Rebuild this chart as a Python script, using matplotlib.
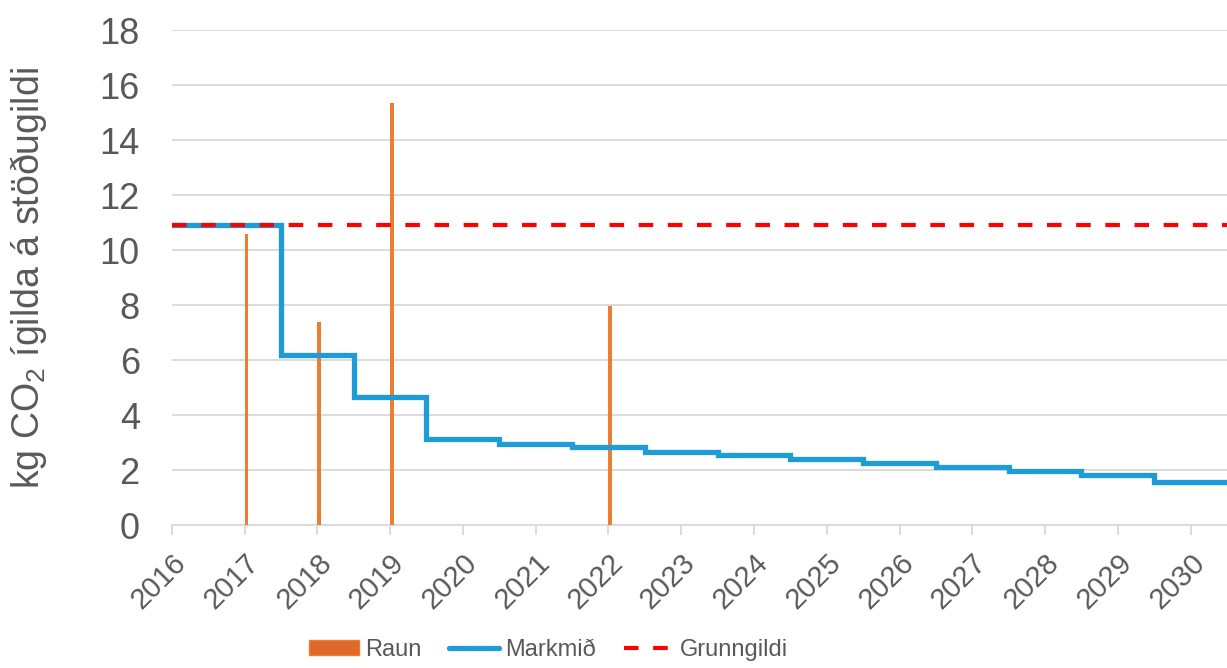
import numpy as np
import matplotlib
matplotlib.use("Agg")
import matplotlib.pyplot as plt
from matplotlib.patches import Patch
from matplotlib.lines import Line2D

plt.rcParams['font.family'] = ['Liberation Sans', 'DejaVu Sans']
plt.rcParams['mathtext.fontset'] = 'custom'
plt.rcParams['mathtext.rm'] = 'Liberation Sans'
plt.rcParams['mathtext.it'] = 'Liberation Sans'

# data
years = np.arange(2016, 2031)
target = [10.9, 10.9, 6.2, 4.66, 3.13, 2.95, 2.82, 2.67, 2.54, 2.39, 2.26, 2.12, 1.97, 1.83, 1.56]
actual_years = [2017, 2018, 2019, 2022]
actual = [10.6, 7.4, 15.35, 7.95]
baseline = 10.9

grey = '#595959'
orange = '#ED7D31'
blue = '#1F9BD7'

fig = plt.figure(figsize=(12.27, 6.68), dpi=100)
ax = fig.add_axes([0.140, 0.214, 0.86, 0.741])

ax.bar(actual_years, actual, width=0.05, align='edge', color=orange, zorder=3)
edges = np.r_[years - 0.5, years[-1] + 0.5]
ax.stairs(target, edges, color=blue, linewidth=3.8, zorder=4, baseline=None)
ax.axhline(baseline, color='#FF0000', linewidth=3, linestyle=(0, (3.5, 3.5)), zorder=5)

ax.set_xlim(2016, 2030.5)
ax.set_ylim(0, 18)
ax.set_yticks(np.arange(0, 19, 2))
ax.set_xticks(years)
ax.grid(axis='y', color='#D9D9D9', linewidth=1.3, zorder=0)
ax.set_axisbelow(True)
for s in ['top', 'right', 'left']:
    ax.spines[s].set_visible(False)
ax.spines['bottom'].set_color('#D9D9D9')
ax.spines['bottom'].set_linewidth(1.3)

ax.tick_params(axis='y', length=0, pad=23, labelsize=26, labelcolor=grey)
ax.tick_params(axis='x', length=7, width=1.3, color='#D9D9D9', pad=10, labelsize=21, labelcolor=grey)
for lab in ax.get_xticklabels():
    lab.set_rotation(45)
    lab.set_ha('right')
    lab.set_va('top')
    lab.set_rotation_mode('anchor')

ax.set_ylabel('kg CO$_2$ ígilda á stöðugildi', fontsize=27, color=grey)
ax.yaxis.set_label_coords(-0.116, 0.5)

handles = [Patch(facecolor='#E0692A', edgecolor=orange),
           Line2D([], [], color=blue, linewidth=3.8, solid_capstyle='round'),
           Line2D([], [], color='#FF0000', linewidth=3, linestyle=(0, (3.5, 3.5)))]
fig.legend(handles, ['Raun', 'Markmið', 'Grunngildi'], loc='center',
           bbox_to_anchor=(0.447, 0.027), ncol=3, frameon=False, fontsize=17,
           labelcolor=grey, handlelength=2.1, handleheight=0.6, handletextpad=0.25,
           columnspacing=1.2)

fig.savefig('out.png', dpi=100)
